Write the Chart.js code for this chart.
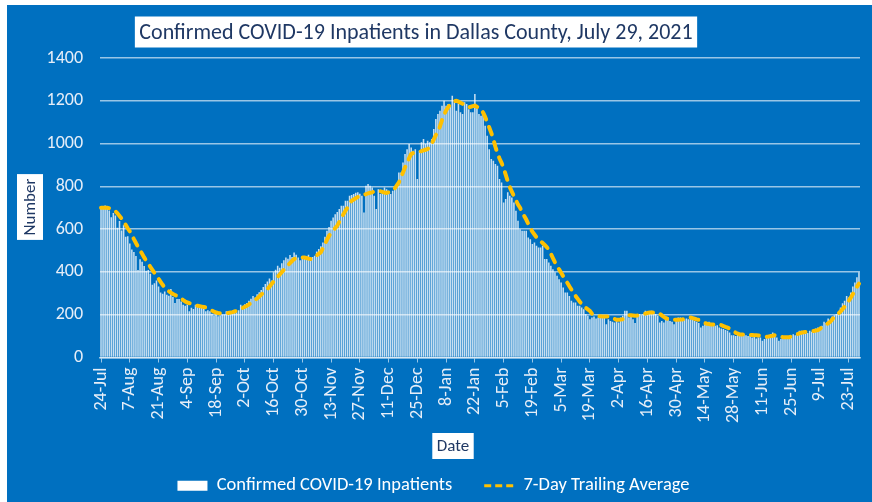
<!DOCTYPE html>
<html lang='en'>
  <head>
    <title>Confirmed COVID-19 Inpatients in Dallas County</title>
    <meta charset='UTF-8'>
    <script src='https://cdn.jsdelivr.net/npm/chart.js@4.4.0/dist/chart.umd.min.js'></script>
    <style>
      html, body { margin: 0; padding: 0; background: #fff; }
      #wrap { position: absolute; left: 7px; top: 5px; width: 865px; height: 497px; background: #0070c0; }
    </style>
  </head>
  <body>
    <div id='wrap'><canvas id='grafico'></canvas></div>
    <script>
      // Daily confirmed inpatients, 24-Jul-2020 .. 28-Jul-2021
      let inpatients = [
        695, 695, 710, 695, 687, 656, 675, 664, 607, 638, 594, 618, 564, 567,
        533, 505, 493, 474, 409, 459, 448, 428, 406, 409, 391, 340, 347, 360,
        332, 304, 298, 309, 293, 289, 320, 283, 255, 273, 273, 262, 247, 242,
        247, 216, 232, 227, 247, 247, 232, 232, 227, 216, 221, 216, 205, 196,
        205, 193, 196, 201, 201, 216, 201, 205, 208, 208, 212, 221, 247, 236,
        249, 255, 265, 275, 288, 280, 296, 305, 316, 330, 343, 355, 369, 360,
        398, 410, 429, 420, 441, 455, 468, 462, 479, 470, 491, 480, 468, 455,
        460, 475, 468, 480, 452, 470, 476, 495, 507, 520, 538, 565, 592, 610,
        639, 655, 670, 680, 694, 709, 709, 733, 733, 756, 760, 764, 770, 772,
        765, 756, 678, 803, 811, 803, 795, 756, 694, 787, 764, 772, 795, 787,
        780, 764, 780, 795, 803, 865, 865, 912, 951, 974, 998, 982, 967, 974,
        834, 967, 1006, 1021, 998, 1013, 1006, 1021, 1068, 1115, 1138, 1154, 1177, 1200,
        1177, 1185, 1177, 1224, 1193, 1154, 1185, 1146, 1138, 1193, 1185, 1161, 1146, 1146,
        1232, 1177, 1138, 1130, 1138, 1083, 1037, 974, 928, 920, 904, 896, 834, 818,
        725, 741, 772, 756, 748, 725, 686, 639, 600, 592, 592, 592, 561, 553,
        530, 538, 522, 514, 514, 522, 460, 460, 444, 429, 413, 398, 382, 366,
        351, 327, 304, 304, 288, 265, 257, 257, 242, 242, 234, 226, 203, 195,
        179, 187, 192, 182, 187, 192, 187, 195, 156, 179, 171, 167, 164, 171,
        164, 187, 195, 218, 218, 187, 203, 179, 161, 195, 203, 198, 203, 218,
        214, 210, 218, 210, 203, 195, 164, 171, 164, 179, 187, 171, 167, 156,
        179, 187, 187, 182, 179, 182, 179, 179, 187, 171, 167, 161, 140, 148,
        161, 164, 167, 151, 148, 148, 151, 140, 136, 133, 129, 125, 117, 104,
        104, 101, 109, 104, 101, 109, 104, 101, 101, 94, 98, 89, 94, 94,
        78, 86, 94, 101, 109, 117, 101, 94, 78, 86, 94, 89, 94, 94,
        101, 109, 104, 117, 125, 125, 117, 120, 114, 125, 120, 133, 136, 140,
        140, 148, 167, 161, 182, 171, 192, 198, 203, 210, 234, 254, 265, 288,
        280, 304, 332, 351, 375, 398
      ];

      // 7-day trailing average as drawn (dashed line)
      let trailingAvg = [
        700, 700, 700, 700, 698, 694, 690, 684, 674, 662, 650, 638, 620, 604,
        590, 572, 553, 535, 518, 500, 485, 468, 452, 438, 424, 410, 396, 382,
        368, 354, 340, 327, 318, 310, 303, 297, 292, 288, 281, 275, 268, 262,
        257, 254, 250, 247, 244, 242, 240, 238, 236, 234, 229, 224, 219, 214,
        210, 208, 207, 206, 206, 207, 208, 210, 212, 215, 218, 222, 227, 232,
        237, 242, 248, 255, 262, 269, 276, 285, 294, 302, 311, 320, 331, 343,
        355, 366, 377, 388, 399, 410, 421, 431, 441, 451, 460, 463, 465, 467,
        468, 467, 465, 462, 460, 464, 470, 477, 485, 491, 510, 530, 550, 569,
        581, 593, 605, 616, 634, 652, 670, 686, 701, 717, 733, 738, 745, 750,
        754, 757, 760, 764, 767, 770, 772, 776, 778, 780, 777, 774, 771, 769,
        772, 776, 780, 790, 805, 818, 840, 865, 889, 910, 932, 951, 956, 959,
        961, 962, 965, 968, 971, 974, 985, 1000, 1020, 1040, 1052, 1080, 1110, 1135,
        1155, 1170, 1183, 1192, 1198, 1200, 1196, 1191, 1186, 1180, 1174, 1170, 1172, 1175,
        1177, 1172, 1166, 1161, 1145, 1125, 1100, 1075, 1050, 1020, 985, 955, 930, 910,
        885, 855, 825, 797, 775, 755, 735, 715, 700, 680, 662, 645, 625, 605,
        588, 575, 562, 553, 544, 535, 526, 516, 505, 485, 465, 445, 428, 412,
        396, 380, 365, 349, 333, 318, 302, 288, 275, 262, 250, 240, 232, 225,
        218, 205, 200, 196, 194, 193, 192, 192, 192, 192, 190, 186, 180, 176,
        176, 177, 179, 185, 192, 198, 197, 196, 195, 196, 198, 200, 203, 205,
        208, 210, 210, 210, 210, 210, 205, 197, 190, 184, 180, 177, 176, 176,
        176, 176, 177, 178, 179, 180, 184, 187, 184, 181, 178, 176, 170, 164,
        161, 158, 156, 154, 154, 154, 154, 154, 151, 147, 143, 140, 135, 128,
        122, 116, 111, 108, 108, 108, 108, 107, 106, 105, 104, 104, 103, 101,
        100, 99, 97, 98, 100, 102, 104, 101, 98, 96, 95, 95, 95, 95,
        98, 101, 105, 109, 113, 116, 118, 119, 120, 121, 122, 124, 126, 128,
        134, 141, 148, 154, 160, 167, 178, 190, 200, 206, 215, 226, 238, 250,
        264, 280, 296, 312, 330, 345
      ];

      // axis labels shown every 14 days
      let tickLabels = [
        '24-Jul', '7-Aug', '21-Aug', '4-Sep', '18-Sep', '2-Oct', '16-Oct', '30-Oct',
        '13-Nov', '27-Nov', '11-Dec', '25-Dec', '8-Jan', '22-Jan', '5-Feb', '19-Feb',
        '5-Mar', '19-Mar', '2-Apr', '16-Apr', '30-Apr', '14-May', '28-May', '11-Jun',
        '25-Jun', '9-Jul', '23-Jul'
      ];

      let chartTitle = 'Confirmed COVID-19 Inpatients in Dallas County, July 29, 2021';
      let yTitle = 'Number';
      let xTitle = 'Date';

      let fontFamily = "Carlito, Lato, 'Noto Sans', sans-serif";
      let navy = '#1f3864';
      let gridColor = 'rgba(255, 255, 255, 0.6)';

      // one category per day
      let months = ['Jan','Feb','Mar','Apr','May','Jun','Jul','Aug','Sep','Oct','Nov','Dec'];
      let days = inpatients.map((v, i) => {
        let d = new Date(Date.UTC(2020, 6, 24 + i));
        return `${d.getUTCDate()}-${months[d.getUTCMonth()]}`;
      });

      // white boxes behind the titles
      function drawBox(c, text, x, y, size, rot) {
        c.save();
        c.translate(x, y);
        c.rotate(rot);
        c.font = `${size}px ${fontFamily}`;
        let w = c.measureText(text).width + 9;
        let h = size + 9;
        c.fillStyle = '#fff';
        c.fillRect(-w / 2, -h / 2, w, h);
        c.fillStyle = navy;
        c.textAlign = 'center';
        c.textBaseline = 'middle';
        c.fillText(text, 0, 1);
        c.restore();
      }

      let boxedTitles = {
        id: 'boxedTitles',
        afterDraw(chart) {
          let c = chart.ctx;
          drawBox(c, chartTitle, 409, 27, 22, 0);
          drawBox(c, yTitle, 23, 202, 17, -Math.PI / 2);
          drawBox(c, xTitle, 446, 441, 17, 0);
        }
      };

      Chart.defaults.font.family = fontFamily;
      Chart.defaults.color = '#e6eef8';

      let ctx = document.getElementById('grafico').getContext('2d');
      let myChart = new Chart(ctx, {
        type: 'bar',
        data: {
          labels: days,
          datasets: [
            {
              label: 'Confirmed COVID-19 Inpatients',
              data: inpatients,
              backgroundColor: 'rgba(255, 255, 255, 0.78)',
              borderWidth: 0,
              barPercentage: 0.75,
              categoryPercentage: 1,
              pointStyle: 'rect',
              order: 1
            },
            {
              type: 'line',
              label: '7-Day Trailing Average',
              data: trailingAvg,
              borderColor: '#ffc000',
              backgroundColor: '#ffc000',
              borderWidth: 4,
              borderDash: [8, 8],
              borderCapStyle: 'round',
              pointRadius: 0,
              pointStyle: 'line',
              fill: false,
              order: 0
            }
          ]
        },
        options: {
          responsive: true,
          maintainAspectRatio: false,
          animation: false,
          layout: { padding: { top: 53, right: 12, bottom: -3, left: 0 } },
          plugins: {
            legend: {
              position: 'bottom',
              labels: {
                color: '#fff',
                font: { size: 18.5 },
                usePointStyle: true,
                pointStyleWidth: 30,
                boxWidth: 30,
                boxHeight: 10,
                padding: 32,
                sort: (a, b) => a.datasetIndex - b.datasetIndex,
                generateLabels(chart) {
                  let items = Chart.defaults.plugins.legend.labels.generateLabels(chart);
                  items.forEach(item => {
                    item.fontColor = '#fff';
                    if (item.datasetIndex === 0) {
                      item.fillStyle = '#fff';
                      item.lineWidth = 0;
                      item.pointStyle = 'rect';
                    } else {
                      item.strokeStyle = '#ffc000';
                      item.lineWidth = 3;
                      item.lineDash = [7, 4];
                      item.lineCap = 'butt';
                      item.pointStyle = 'line';
                    }
                  });
                  return items;
                }
              }
            },
            tooltip: { enabled: false }
          },
          scales: {
            x: {
              afterFit(scale) {
                scale.height = 87;
                scale.paddingLeft = 0;
                scale.paddingRight = 0;
              },
              grid: {
                offset: false,
                drawOnChartArea: false,
                tickLength: 5,
                color: c => c.index % 14 === 0 ? gridColor : 'rgba(0, 0, 0, 0)'
              },
              border: { display: true, color: gridColor, width: 1.5 },
              ticks: {
                autoSkip: false,
                minRotation: 90,
                maxRotation: 90,
                padding: 5,
                font: { size: 18 },
                callback: (v, i) => i % 14 === 0 ? tickLabels[i / 14] : ''
              }
            },
            y: {
              min: 0,
              max: 1400,
              afterFit(scale) { scale.width = 93; },
              grid: { color: gridColor, lineWidth: 1.5, drawTicks: false },
              border: { display: false },
              ticks: {
                stepSize: 200,
                padding: 17,
                font: { size: 18 },
                callback: v => String(v)
              }
            }
          }
        },
        plugins: [boxedTitles]
      });
    </script>
  </body>
</html>
